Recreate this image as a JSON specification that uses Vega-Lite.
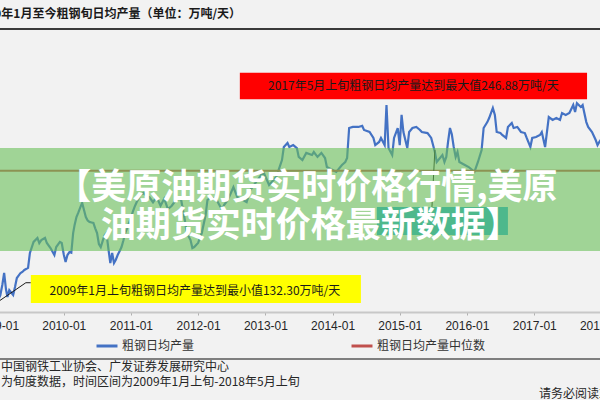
{
  "$schema": "https://vega.github.io/schema/vega-lite/v6.json",
  "width": 600,
  "height": 284,
  "autosize": {"type": "none"},
  "padding": {"left": 0, "right": 0, "top": 28, "bottom": 88},
  "background": "#f2f2f2",
  "title": {
    "text": "2009年1月至今粗钢旬日均产量（单位：万吨/天）",
    "anchor": "start",
    "frame": "group",
    "dx": -27,
    "offset": 7,
    "font": "Noto Sans CJK SC",
    "fontSize": 12,
    "fontWeight": "bold",
    "color": "#1a1a1a"
  },
  "config": {"view": {"stroke": null}, "font": "Noto Sans CJK SC"},
  "datasets": {
    "output": [
      {"date": "2009-01-01", "value": 132.3}, {"date": "2009-01-21", "value": 136.5}, {"date": "2009-02-01", "value": 142.5},
      {"date": "2009-02-11", "value": 149.4}, {"date": "2009-02-21", "value": 140.0}, {"date": "2009-03-01", "value": 135.6},
      {"date": "2009-03-11", "value": 139.6}, {"date": "2009-04-01", "value": 136.8}, {"date": "2009-04-11", "value": 141.3},
      {"date": "2009-04-21", "value": 146.5}, {"date": "2009-05-11", "value": 149.4}, {"date": "2009-05-21", "value": 150.0},
      {"date": "2009-06-01", "value": 151.1}, {"date": "2009-06-21", "value": 152.3}, {"date": "2009-07-01", "value": 160.9},
      {"date": "2009-07-21", "value": 167.2}, {"date": "2009-08-11", "value": 169.5}, {"date": "2009-08-21", "value": 166.6},
      {"date": "2009-09-01", "value": 168.3}, {"date": "2009-09-21", "value": 169.5}, {"date": "2009-10-01", "value": 166.6},
      {"date": "2009-10-21", "value": 163.7}, {"date": "2009-11-11", "value": 159.7}, {"date": "2009-11-21", "value": 164.3},
      {"date": "2009-12-11", "value": 167.2}, {"date": "2009-12-21", "value": 166.6}, {"date": "2010-01-01", "value": 160.0},
      {"date": "2010-01-11", "value": 155.7}, {"date": "2010-01-21", "value": 159.7}, {"date": "2010-02-01", "value": 161.4},
      {"date": "2010-02-11", "value": 161.0}, {"date": "2010-02-21", "value": 172.3}, {"date": "2010-03-01", "value": 177.0},
      {"date": "2010-03-11", "value": 181.5}, {"date": "2010-03-21", "value": 184.0}, {"date": "2010-04-01", "value": 187.0},
      {"date": "2010-04-11", "value": 189.6}, {"date": "2010-04-21", "value": 185.5}, {"date": "2010-05-01", "value": 181.5},
      {"date": "2010-05-11", "value": 179.5}, {"date": "2010-05-21", "value": 178.7}, {"date": "2010-06-01", "value": 178.4},
      {"date": "2010-06-11", "value": 178.1}, {"date": "2010-06-21", "value": 175.0}, {"date": "2010-07-01", "value": 172.3},
      {"date": "2010-07-11", "value": 166.0}, {"date": "2010-07-21", "value": 164.3}, {"date": "2010-08-01", "value": 168.0},
      {"date": "2010-08-11", "value": 171.0}, {"date": "2010-08-21", "value": 172.3}, {"date": "2010-09-01", "value": 163.0},
      {"date": "2010-09-11", "value": 155.1}, {"date": "2010-09-21", "value": 160.9}, {"date": "2010-10-01", "value": 155.1},
      {"date": "2010-10-11", "value": 157.0}, {"date": "2010-10-21", "value": 159.7}, {"date": "2010-11-01", "value": 162.0},
      {"date": "2010-11-11", "value": 164.3}, {"date": "2010-11-21", "value": 168.0}, {"date": "2010-12-01", "value": 172.3},
      {"date": "2010-12-11", "value": 175.0}, {"date": "2010-12-21", "value": 178.0}, {"date": "2011-01-01", "value": 181.0},
      {"date": "2011-01-11", "value": 184.5}, {"date": "2011-01-21", "value": 187.3}, {"date": "2011-02-01", "value": 190.0},
      {"date": "2011-02-11", "value": 192.0}, {"date": "2011-02-21", "value": 194.2}, {"date": "2011-03-11", "value": 195.3},
      {"date": "2011-04-01", "value": 193.0}, {"date": "2011-04-11", "value": 193.0}, {"date": "2011-05-01", "value": 190.0},
      {"date": "2011-05-21", "value": 193.0}, {"date": "2011-06-11", "value": 188.0}, {"date": "2011-07-01", "value": 192.0},
      {"date": "2011-07-21", "value": 186.0}, {"date": "2011-08-11", "value": 188.0}, {"date": "2011-09-01", "value": 191.0},
      {"date": "2011-09-21", "value": 192.0}, {"date": "2011-10-01", "value": 191.3}, {"date": "2011-10-21", "value": 179.8},
      {"date": "2011-11-01", "value": 172.3}, {"date": "2011-11-21", "value": 168.3}, {"date": "2011-12-01", "value": 163.7},
      {"date": "2011-12-11", "value": 164.3}, {"date": "2012-01-01", "value": 166.6}, {"date": "2012-01-21", "value": 172.3},
      {"date": "2012-02-11", "value": 182.7}, {"date": "2012-02-21", "value": 191.3}, {"date": "2012-03-11", "value": 193.0},
      {"date": "2012-04-11", "value": 191.3}, {"date": "2012-05-11", "value": 185.5}, {"date": "2012-05-21", "value": 188.4},
      {"date": "2012-06-11", "value": 191.3}, {"date": "2012-07-11", "value": 198.7}, {"date": "2012-08-01", "value": 193.0},
      {"date": "2012-09-01", "value": 191.3}, {"date": "2012-09-21", "value": 190.1}, {"date": "2012-10-11", "value": 197.0},
      {"date": "2012-11-11", "value": 201.6}, {"date": "2012-12-21", "value": 207.4}, {"date": "2013-01-21", "value": 199.9},
      {"date": "2013-03-01", "value": 204.5}, {"date": "2013-04-01", "value": 214.2}, {"date": "2013-04-11", "value": 221.7},
      {"date": "2013-05-01", "value": 224.0}, {"date": "2013-05-11", "value": 221.7}, {"date": "2013-06-01", "value": 222.8},
      {"date": "2013-06-21", "value": 221.1}, {"date": "2013-07-01", "value": 216.0}, {"date": "2013-07-21", "value": 214.2},
      {"date": "2013-08-11", "value": 218.3}, {"date": "2013-09-11", "value": 217.1}, {"date": "2013-09-21", "value": 218.8},
      {"date": "2013-10-11", "value": 216.0}, {"date": "2013-11-01", "value": 218.3}, {"date": "2013-11-21", "value": 215.4},
      {"date": "2013-12-01", "value": 210.2}, {"date": "2014-01-01", "value": 208.5}, {"date": "2014-01-21", "value": 207.4},
      {"date": "2014-02-21", "value": 211.4}, {"date": "2014-03-11", "value": 213.1}, {"date": "2014-03-21", "value": 215.4},
      {"date": "2014-04-01", "value": 232.6}, {"date": "2014-04-21", "value": 233.2}, {"date": "2014-05-21", "value": 233.2},
      {"date": "2014-06-11", "value": 233.8}, {"date": "2014-06-21", "value": 231.5}, {"date": "2014-07-21", "value": 230.3},
      {"date": "2014-08-11", "value": 226.9}, {"date": "2014-08-21", "value": 222.8}, {"date": "2014-09-11", "value": 224.6},
      {"date": "2014-09-21", "value": 226.9}, {"date": "2014-10-11", "value": 222.8}, {"date": "2014-10-21", "value": 245.8},
      {"date": "2014-11-01", "value": 221.1}, {"date": "2014-11-21", "value": 217.1}, {"date": "2014-12-01", "value": 226.9},
      {"date": "2014-12-21", "value": 232.6}, {"date": "2015-01-01", "value": 222.8}, {"date": "2015-01-11", "value": 240.1},
      {"date": "2015-01-21", "value": 230.3}, {"date": "2015-02-11", "value": 221.1}, {"date": "2015-02-21", "value": 230.3},
      {"date": "2015-03-11", "value": 232.6}, {"date": "2015-04-01", "value": 233.2}, {"date": "2015-04-21", "value": 231.5},
      {"date": "2015-05-01", "value": 230.3}, {"date": "2015-06-01", "value": 229.7}, {"date": "2015-06-21", "value": 226.9},
      {"date": "2015-07-11", "value": 218.8}, {"date": "2015-07-21", "value": 213.1}, {"date": "2015-08-21", "value": 217.1},
      {"date": "2015-09-01", "value": 213.1}, {"date": "2015-09-11", "value": 216.0}, {"date": "2015-09-21", "value": 225.0},
      {"date": "2015-10-01", "value": 232.6}, {"date": "2015-10-11", "value": 229.0}, {"date": "2015-10-21", "value": 222.0},
      {"date": "2015-11-01", "value": 216.0}, {"date": "2015-11-11", "value": 218.8}, {"date": "2015-11-21", "value": 213.1},
      {"date": "2015-12-21", "value": 211.4}, {"date": "2016-01-11", "value": 210.2}, {"date": "2016-02-11", "value": 207.4},
      {"date": "2016-03-01", "value": 213.1}, {"date": "2016-03-21", "value": 220.0}, {"date": "2016-04-01", "value": 232.6},
      {"date": "2016-04-21", "value": 236.0}, {"date": "2016-05-01", "value": 238.3}, {"date": "2016-05-21", "value": 244.1},
      {"date": "2016-06-01", "value": 240.1}, {"date": "2016-06-11", "value": 230.3}, {"date": "2016-07-01", "value": 229.7},
      {"date": "2016-07-11", "value": 228.6}, {"date": "2016-08-01", "value": 226.9}, {"date": "2016-08-11", "value": 233.2},
      {"date": "2016-09-01", "value": 235.5}, {"date": "2016-09-11", "value": 232.6}, {"date": "2016-10-01", "value": 233.2},
      {"date": "2016-10-21", "value": 230.3}, {"date": "2016-11-11", "value": 229.7}, {"date": "2016-11-21", "value": 226.9},
      {"date": "2016-12-11", "value": 221.7}, {"date": "2016-12-21", "value": 226.9}, {"date": "2017-01-11", "value": 227.4},
      {"date": "2017-02-01", "value": 228.6}, {"date": "2017-02-11", "value": 230.3}, {"date": "2017-03-01", "value": 221.7},
      {"date": "2017-03-11", "value": 230.3}, {"date": "2017-03-21", "value": 238.9}, {"date": "2017-04-11", "value": 237.2},
      {"date": "2017-05-01", "value": 238.3}, {"date": "2017-05-21", "value": 237.2}, {"date": "2017-06-01", "value": 241.2},
      {"date": "2017-06-21", "value": 240.1}, {"date": "2017-07-11", "value": 241.2}, {"date": "2017-08-01", "value": 245.8},
      {"date": "2017-08-11", "value": 241.8}, {"date": "2017-08-21", "value": 246.88}, {"date": "2017-09-11", "value": 244.7},
      {"date": "2017-09-21", "value": 245.8}, {"date": "2017-10-11", "value": 236.0}, {"date": "2017-10-21", "value": 233.2},
      {"date": "2017-11-11", "value": 230.3}, {"date": "2017-12-01", "value": 225.7}, {"date": "2017-12-11", "value": 222.8},
      {"date": "2017-12-21", "value": 224.6}, {"date": "2018-01-11", "value": 228.0}, {"date": "2018-02-11", "value": 232.0},
      {"date": "2018-03-21", "value": 230.0}, {"date": "2018-05-01", "value": 230.0}
    ]
  },
  "encoding": {
    "x": {
      "field": "date", "type": "temporal", "title": null,
      "scale": {"domain": [{"year": 2009, "month": 1, "date": 1}, {"year": 2018, "month": 1, "date": 1}], "range": [-3.4, 601.4]},
      "axis": {
        "title": null, "format": "%Y-%m", "grid": false,
        "values": [{"year": 2009, "month": 1, "date": 1}, {"year": 2010, "month": 1, "date": 1}, {"year": 2011, "month": 1, "date": 1}, {"year": 2012, "month": 1, "date": 1}, {"year": 2013, "month": 1, "date": 1}, {"year": 2014, "month": 1, "date": 1}, {"year": 2015, "month": 1, "date": 1}, {"year": 2016, "month": 1, "date": 1}, {"year": 2017, "month": 1, "date": 1}, {"year": 2018, "month": 1, "date": 1}],
        "labelFont": "Liberation Sans", "labelFontSize": 12, "labelColor": "#262626",
        "labelPadding": 5, "labelFlush": false, "labelOverlap": false, "labelBound": false,
        "domainColor": "#c8c8c8", "domainWidth": 2, "tickColor": "#b0b0b0", "tickSize": 3
      }
    },
    "y": {"field": "value", "type": "quantitative", "title": null, "scale": {"domain": [127, 290], "nice": false, "zero": false}, "axis": null}
  },
  "layer": [
    {
      "data": {"values": [{"date": "2008-12-01", "date2": "2018-03-01", "value": 289.4}]},
      "mark": {"type": "rule", "color": "#3a3a3a", "strokeWidth": 2},
      "encoding": {"x2": {"field": "date2"}}
    },
    {
      "data": {"values": [{"date": "2008-12-01", "date2": "2018-03-01", "value": 100}]},
      "mark": {"type": "rule", "color": "#7f7f7f", "strokeWidth": 2},
      "encoding": {"x2": {"field": "date2"}}
    },
    {
      "data": {"name": "output"},
      "mark": {"type": "line", "strokeWidth": 2.2, "clip": true},
      "encoding": {
        "color": {
          "datum": "粗钢日均产量",
          "scale": {"domain": ["粗钢日均产量", "粗钢日均产量中位数"], "range": ["#4472c4", "#c0504d"]},
          "legend": {
            "title": null, "orient": "none", "legendX": 95, "legendY": 306, "direction": "horizontal",
            "symbolType": "stroke", "symbolSize": 440, "symbolStrokeWidth": 3,
            "labelFont": "Noto Sans CJK SC", "labelFontSize": 12, "labelColor": "#333333",
            "columnPadding": 150, "labelOffset": 3
          }
        }
      }
    },
    {
      "data": {"values": [{"date": "2008-12-01", "date2": "2018-03-01", "value": 208}]},
      "mark": {"type": "rule", "strokeWidth": 2, "clip": true},
      "encoding": {
        "x2": {"field": "date2"},
        "color": {"datum": "粗钢日均产量中位数", "legend": null}
      }
    },
    {
      "data": {"values": [{"date": "2009-01-01", "value": 132.3}, {"date": "2009-06-09", "value": 143.8}, {"date": "2009-07-06", "value": 143.8}]},
      "mark": {"type": "line", "color": "#1a1a1a", "strokeWidth": 1, "clip": true}
    },
    {
      "data": {"values": [{"date": "2015-07-11", "value": 220.0}, {"date": "2015-06-25", "value": 187.3}]},
      "mark": {"type": "line", "color": "#1a1a1a", "strokeWidth": 1}
    },
    {
      "data": {"values": [{"date": "2014-08-30", "date2": "2016-08-11", "value": 171.2, "value2": 187.3}]},
      "mark": {"type": "rect", "color": "#25acd9"},
      "encoding": {"x2": {"field": "date2"}, "y2": {"field": "value2"}}
    },
    {
      "data": {"values": [{"date": "2012-08-15", "date2": "2017-10-15", "value": 249.1, "value2": 264.3}]},
      "mark": {"type": "rect", "color": "#ff0000"},
      "encoding": {"x2": {"field": "date2"}, "y2": {"field": "value2"}}
    },
    {
      "data": {"values": [{"date": "2009-07-06", "date2": "2014-06-04", "value": 132.2, "value2": 148.2}]},
      "mark": {"type": "rect", "color": "#ffff00"},
      "encoding": {"x2": {"field": "date2"}, "y2": {"field": "value2"}}
    },
    {
      "data": {"values": [
        {"date": "2015-03-16", "value": 256.7, "text": "2017年5月上旬粗钢日均产量达到最大值246.88万吨/天"},
        {"date": "2011-12-15", "value": 139.05, "text": "2009年1月上旬粗钢日均产量达到最小值132.30万吨/天"}
      ]},
      "mark": {"type": "text", "font": "Noto Sans CJK SC", "fontSize": 12, "color": "#1a1a1a", "align": "center", "baseline": "middle"},
      "encoding": {"text": {"field": "text"}}
    },
    {
      "data": {"values": [{"date": "2008-12-01", "date2": "2018-06-01", "value": 162.0, "value2": 221.1}]},
      "mark": {"type": "rect", "color": "#69c059", "opacity": 0.6, "clip": true},
      "encoding": {"x2": {"field": "date2"}, "y2": {"field": "value2"}}
    },
    {
      "data": {"values": [
        {"date": "2013-08-14", "value": 198.2, "text": "【美原油期货实时价格行情,美原"},
        {"date": "2013-09-05", "value": 176.4, "text": "油期货实时价格最新数据】"}
      ]},
      "mark": {"type": "text", "font": "Noto Sans CJK SC", "fontSize": 35, "fontWeight": "bold", "color": "#ffffff", "align": "center", "baseline": "middle"},
      "encoding": {"text": {"field": "text"}}
    },
    {
      "data": {"values": [
        {"date": "2009-01-19", "value": 95.4, "text": "中国钢铁工业协会、广发证券发展研究中心"},
        {"date": "2009-01-19", "value": 86.8, "text": "为旬度数据，时间区间为2009年1月上旬-2018年5月上旬"},
        {"date": "2017-01-21", "value": 79.9, "text": "请务必阅读末页的免责声明"}
      ]},
      "mark": {"type": "text", "font": "Noto Sans CJK SC", "fontSize": 12, "color": "#262626", "align": "left", "baseline": "middle", "dx": 1},
      "encoding": {"text": {"field": "text"}}
    }
  ]
}
